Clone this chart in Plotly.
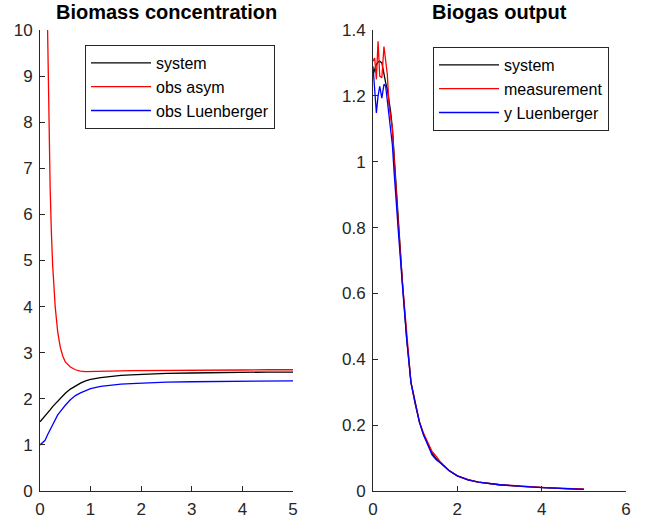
#!/usr/bin/env python3

import plotly.graph_objects as go

# Biomass concentration (left panel)
t_bio = [0, 0.05, 0.1, 0.15, 0.2, 0.25, 0.3, 0.35, 0.4, 0.45, 0.5, 0.6, 0.7, 0.8, 0.9,
         1.0, 1.2, 1.4, 1.6, 1.8, 2.0, 2.5, 3.0, 3.5, 4.0, 4.5, 5.0]
x_system = [1.5, 1.56, 1.62, 1.69, 1.76, 1.83, 1.89, 1.95, 2.01, 2.07, 2.12, 2.21, 2.28, 2.34, 2.39,
            2.42, 2.46, 2.49, 2.51, 2.52, 2.53, 2.55, 2.56, 2.57, 2.57, 2.58, 2.58]
x_luen = [1.0, 1.05, 1.1, 1.22, 1.33, 1.42, 1.56, 1.65, 1.72, 1.8, 1.86, 1.98, 2.07, 2.13, 2.18,
          2.22, 2.27, 2.3, 2.32, 2.33, 2.34, 2.36, 2.37, 2.375, 2.38, 2.385, 2.39]

t_asym = [0, 0.05, 0.1, 0.125, 0.15, 0.175, 0.2, 0.225, 0.25, 0.3, 0.35, 0.4, 0.45, 0.5, 0.6,
          0.7, 0.8, 0.9, 1.0, 1.2, 1.4, 1.6, 1.8, 2.0, 2.5, 3.0, 3.5, 4.0, 4.5, 5.0]
x_asym = [40, 25, 15, 12.2, 10.0, 7.9, 6.6, 5.6, 4.9, 4.0, 3.45, 3.12, 2.93, 2.8, 2.69,
          2.63, 2.6, 2.59, 2.59, 2.595, 2.6, 2.605, 2.61, 2.61, 2.615, 2.62, 2.62, 2.625, 2.63, 2.63]

# Biogas output (right panel)
t_gas = [0, 0.04, 0.08, 0.12, 0.16, 0.21, 0.26, 0.30, 0.34, 0.38, 0.42, 0.46, 0.50, 0.55, 0.6,
         0.7, 0.8, 0.9, 1.0, 1.1, 1.2, 1.3, 1.4, 1.5, 1.6, 1.8, 2.0, 2.25, 2.5, 3.0, 3.5, 4.0, 4.5, 5.0]
y_system = [1.264, 1.28, 1.295, 1.303, 1.305, 1.30, 1.26, 1.24, 1.22, 1.19, 1.15, 1.10, 1.02, 0.90, 0.80,
            0.63, 0.46, 0.33, 0.265, 0.21, 0.17, 0.14, 0.115, 0.098, 0.085, 0.062, 0.046, 0.034, 0.027,
            0.019, 0.014, 0.010, 0.007, 0.005]
y_meas = [1.305, 1.315, 1.25, 1.366, 1.26, 1.255, 1.35, 1.30, 1.265, 1.17, 1.13, 1.10, 1.01, 0.89, 0.81,
          0.63, 0.47, 0.33, 0.27, 0.21, 0.175, 0.145, 0.12, 0.105, 0.088, 0.063, 0.046, 0.035, 0.027,
          0.019, 0.014, 0.011, 0.008, 0.006]
y_luen = [1.29, 1.20, 1.148, 1.20, 1.229, 1.193, 1.235, 1.23, 1.188, 1.13, 1.09, 1.05, 0.97, 0.87, 0.79,
          0.62, 0.46, 0.33, 0.265, 0.21, 0.17, 0.14, 0.11, 0.095, 0.085, 0.062, 0.046, 0.034, 0.027,
          0.019, 0.014, 0.010, 0.008, 0.005]

AX = '#262626'
FONT = 'Liberation Sans, Arial, sans-serif'
W, H = 654, 526


# pixel position -> paper fraction
def px(x):
    return x / W


def py(y):
    return 1 - y / H


fig = go.Figure()

# left panel traces
fig.add_trace(go.Scatter(x=t_bio, y=x_system, name='system', mode='lines',
                         line=dict(color='#000000', width=1.3), xaxis='x', yaxis='y', legend='legend'))
fig.add_trace(go.Scatter(x=t_asym, y=x_asym, name='obs asym', mode='lines',
                         line=dict(color='#ff0000', width=1.3), xaxis='x', yaxis='y', legend='legend'))
fig.add_trace(go.Scatter(x=t_bio, y=x_luen, name='obs Luenberger', mode='lines',
                         line=dict(color='#0000ff', width=1.3), xaxis='x', yaxis='y', legend='legend'))

# right panel traces
fig.add_trace(go.Scatter(x=t_gas, y=y_system, name='system', mode='lines',
                         line=dict(color='#000000', width=1.3), xaxis='x2', yaxis='y2', legend='legend2'))
fig.add_trace(go.Scatter(x=t_gas, y=y_meas, name='measurement', mode='lines',
                         line=dict(color='#ff0000', width=1.3), xaxis='x2', yaxis='y2', legend='legend2'))
fig.add_trace(go.Scatter(x=t_gas, y=y_luen, name='y Luenberger', mode='lines',
                         line=dict(color='#0000ff', width=1.3), xaxis='x2', yaxis='y2', legend='legend2'))

axis_style = dict(showline=True, linecolor=AX, linewidth=1, mirror=False, showgrid=False,
                  zeroline=False, ticks='inside', ticklen=5, tickcolor=AX, tickwidth=1,
                  automargin=False, ticklabelstandoff=3,
                  tickfont=dict(size=17, color=AX, family=FONT))

y_dom = [py(491), py(30)]

fig.update_layout(
    width=W,
    height=H,
    margin=dict(l=0, r=0, t=0, b=0, autoexpand=False),
    paper_bgcolor='white',
    plot_bgcolor='white',
    font=dict(family=FONT, color=AX),
    xaxis=dict(domain=[px(40), px(293)], range=[0, 5], dtick=1, anchor='y', **axis_style),
    yaxis=dict(domain=y_dom, range=[0, 10], dtick=1, anchor='x', **axis_style),
    xaxis2=dict(domain=[px(373), px(626)], range=[0, 6], dtick=2, anchor='y2', **axis_style),
    yaxis2=dict(domain=y_dom, range=[0, 1.4], dtick=0.2, anchor='x2', **axis_style),
    legend=dict(x=px(85), y=py(45), xanchor='left', yanchor='top',
                bordercolor=AX, borderwidth=1, bgcolor='white',
                font=dict(size=16, color='#000000', family=FONT), itemwidth=60),
    legend2=dict(x=px(433), y=py(47), xanchor='left', yanchor='top',
                 bordercolor=AX, borderwidth=1, bgcolor='white',
                 font=dict(size=16, color='#000000', family=FONT), itemwidth=60),
    annotations=[
        dict(text='<b>Biomass concentration</b>', x=px(166.5), y=py(12), xref='paper', yref='paper',
             xanchor='center', yanchor='middle', showarrow=False,
             font=dict(size=20, color='#000000', family=FONT)),
        dict(text='<b>Biogas output</b>', x=px(499.5), y=py(12), xref='paper', yref='paper',
             xanchor='center', yanchor='middle', showarrow=False,
             font=dict(size=20, color='#000000', family=FONT)),
    ],
)

# drop the default page margin so the figure sits at the window's top-left corner
fig.write_html("out.html", config={'displayModeBar': False},
               post_script="document.body.style.margin = '0';")
